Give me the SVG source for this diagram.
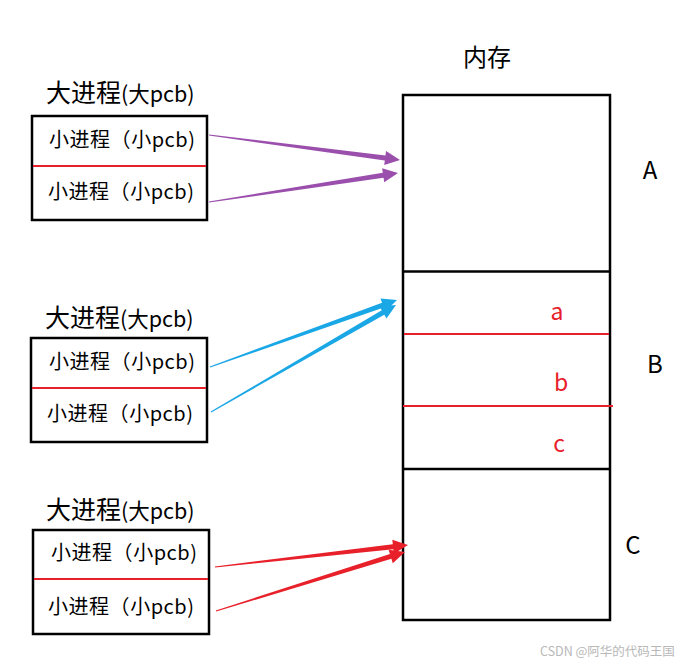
<svg xmlns="http://www.w3.org/2000/svg" width="682" height="666" viewBox="0 0 682 666">
<style>
.box{fill:#fff;stroke:#000;stroke-width:2.5}
.sep{stroke:#e8202a;stroke-width:2}
.blk{stroke:#000;stroke-width:2.5}
.t{font-family:"Noto Sans CJK SC","Noto Sans",sans-serif;fill:#000}
.title{font-size:25px}
.sub{font-size:21.5px}
.item{font-size:20px}
.lab{font-size:24px}
.red{fill:#e8202a;font-size:23px}
.purple{fill:#9b4fad}
.blue{fill:#1aa7e6}
.redf{fill:#e8202a}
.wm{font-family:"Noto Sans CJK SC",sans-serif;font-size:12.5px;fill:#b8b8b8}
</style>
<rect width="682" height="666" fill="#fff"/>
<g id="memory">
<rect class="box" x="403" y="95" width="207" height="525"/>
<line class="blk" x1="403" y1="271.5" x2="610" y2="271.5"/>
<line class="blk" x1="403" y1="469" x2="610" y2="469"/>
<line class="sep" x1="404" y1="334" x2="609" y2="334"/>
<line class="sep" x1="403" y1="406" x2="613" y2="406"/>
<text class="t lab" x="487" y="66" text-anchor="middle">内存</text>
<text class="t lab" x="650" y="179" text-anchor="middle">A</text>
<text class="t lab" x="655" y="373" text-anchor="middle">B</text>
<text class="t lab" x="633" y="554" text-anchor="middle">C</text>
<text class="t red" x="557" y="320" text-anchor="middle">a</text>
<text class="t red" x="561" y="391" text-anchor="middle">b</text>
<text class="t red" x="559" y="452" text-anchor="middle">c</text>
</g>
<g id="proc1">
<text class="t" x="46" y="102"><tspan class="title">大进程</tspan><tspan class="sub">(大pcb)</tspan></text>
<rect class="box" x="32" y="116" width="175" height="104"/>
<line class="sep" x1="33" y1="166" x2="206" y2="166"/>
<text class="t item" x="49" y="147" textLength="146">小进程（小pcb)</text>
<text class="t item" x="48" y="199" textLength="146">小进程（小pcb)</text>
</g>
<g id="proc2">
<text class="t" x="45" y="327"><tspan class="title">大进程</tspan><tspan class="sub">(大pcb)</tspan></text>
<rect class="box" x="31" y="338" width="176" height="104"/>
<line class="sep" x1="32" y1="388" x2="206" y2="388"/>
<text class="t item" x="49" y="369" textLength="146">小进程（小pcb)</text>
<text class="t item" x="47" y="421" textLength="146">小进程（小pcb)</text>
</g>
<g id="proc3">
<text class="t" x="46" y="519"><tspan class="title">大进程</tspan><tspan class="sub">(大pcb)</tspan></text>
<rect class="box" x="33" y="530" width="176" height="104"/>
<line class="sep" x1="34" y1="579" x2="208" y2="579"/>
<text class="t item" x="51" y="560" textLength="146">小进程（小pcb)</text>
<text class="t item" x="48" y="614" textLength="146">小进程（小pcb)</text>
</g>
<g id="connectors">
<polygon class="purple" points="208.92,135.59 384.81,160.53 384.22,164.99 400,160 386.04,151.11 385.45,155.57 209.08,134.41"/>
<polygon class="purple" points="209.09,202.59 383.55,177.75 384.23,182.20 398,173 382.11,168.36 382.79,172.81 208.91,201.41"/>
<polygon class="blue" points="210.20,367.56 383.72,307.41 385.24,311.65 397,300 380.52,298.47 382.04,302.71 209.80,366.44"/>
<polygon class="blue" points="211.30,412.52 384.26,314.67 386.51,318.57 396,305 379.51,306.45 381.76,310.35 210.70,411.48"/>
<polygon class="redf" points="215.07,567.60 393.38,549.18 393.89,553.66 408,545 392.31,539.74 392.82,544.22 214.93,566.40"/>
<polygon class="redf" points="216.18,611.57 391.43,558.86 392.77,563.15 405,552 388.59,549.79 389.94,554.08 215.82,610.43"/>
</g>
<text class="wm" x="540" y="656">CSDN @阿华的代码王国</text>
</svg>
